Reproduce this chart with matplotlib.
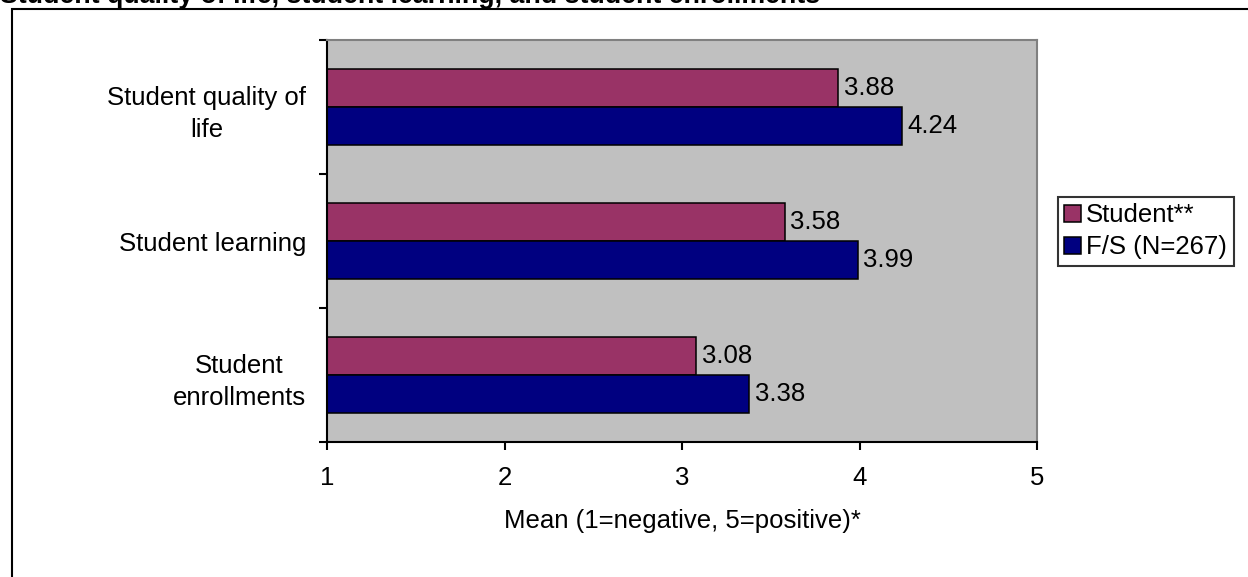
import matplotlib
matplotlib.use("Agg")
import matplotlib.pyplot as plt
from matplotlib.patches import Rectangle
import numpy as np

categories = ["Student quality of\nlife", "Student learning", "Student\nenrollments"]
student_vals = [3.88, 3.58, 3.08]
fs_vals = [4.24, 3.99, 3.38]
series_names = ["Student**", "F/S (N=267)"]
x_ticks = [1, 2, 3, 4, 5]
title = "Student quality of life, student learning, and student enrollments"

PINK = "#993366"
NAVY = "#000080"
GREY = "#C0C0C0"
FS = 18.5

plt.rcParams["font.family"] = ["Liberation Sans", "DejaVu Sans"]

W, H = 1248, 577
fig = plt.figure(figsize=(W / 100, H / 100), dpi=100)

# outer chart frame (right and bottom edges fall outside the picture)
fig.patches.append(Rectangle((11.5 / W, -0.1), 1.2, 1 - 9 / H + 0.1,
                             transform=fig.transFigure, fill=False,
                             edgecolor="black", linewidth=1.5))
# title is clipped by the top edge, as in the source image
fig.text(0, 1 - 3 / H, title, fontsize=19.3, fontweight="bold",
         ha="left", va="baseline")

left, right, top, bottom = 327 / W, 1037 / W, 1 - 40 / H, 1 - 442 / H
ax = fig.add_axes([left, bottom, right - left, top - bottom])
ax.set_facecolor(GREY)

y = np.arange(len(categories))
bar_h = 0.287
b1 = ax.barh(y - bar_h / 2, [v - 1 for v in student_vals], height=bar_h, left=1,
             color=PINK, edgecolor="black", linewidth=1.1, label=series_names[0])
b2 = ax.barh(y + bar_h / 2, [v - 1 for v in fs_vals], height=bar_h, left=1,
             color=NAVY, edgecolor="black", linewidth=1.1, label=series_names[1])

for yy, v in zip(y - bar_h / 2, student_vals):
    ax.text(v + 0.03, yy, f"{v:.2f}", fontsize=FS, va="center", ha="left")
for yy, v in zip(y + bar_h / 2, fs_vals):
    ax.text(v + 0.03, yy, f"{v:.2f}", fontsize=FS, va="center", ha="left")

ax.set_xlim(1, 5)
ax.set_ylim(len(categories) - 0.5, -0.5)

ax.set_xticks(x_ticks)
ax.set_xticklabels([str(t) for t in x_ticks], fontsize=FS)
ax.tick_params(axis="x", direction="out", length=6, width=1.5, pad=11)

ax.set_yticks(np.arange(len(categories) + 1) - 0.5)
ax.set_yticklabels([])
ax.set_yticks(y, minor=True)
ax.set_yticklabels(categories, minor=True, fontsize=FS, multialignment="center",
                   linespacing=1.45)
ax.tick_params(axis="y", which="major", direction="out", length=6, width=1.5)
ax.tick_params(axis="y", which="minor", length=0, pad=15)

ax.set_xlabel("Mean (1=negative, 5=positive)*", fontsize=FS, labelpad=14)

for side in ("left", "bottom"):
    ax.spines[side].set_color("black")
    ax.spines[side].set_linewidth(1.5)
for side in ("top", "right"):
    ax.spines[side].set_color("#808080")
    ax.spines[side].set_linewidth(1.5)

leg = fig.legend(handles=[b1, b2], labels=series_names, loc="upper left",
                 bbox_to_anchor=(1058 / W, 1 - 197 / H), borderaxespad=0,
                 fontsize=FS, frameon=True, fancybox=False, shadow=False,
                 handlelength=0.65, handleheight=0.65, handletextpad=0.2,
                 borderpad=0.25, labelspacing=0.3)
leg.get_frame().set_edgecolor("black")
leg.get_frame().set_linewidth(1.5)

fig.savefig("out.png", dpi=100)
